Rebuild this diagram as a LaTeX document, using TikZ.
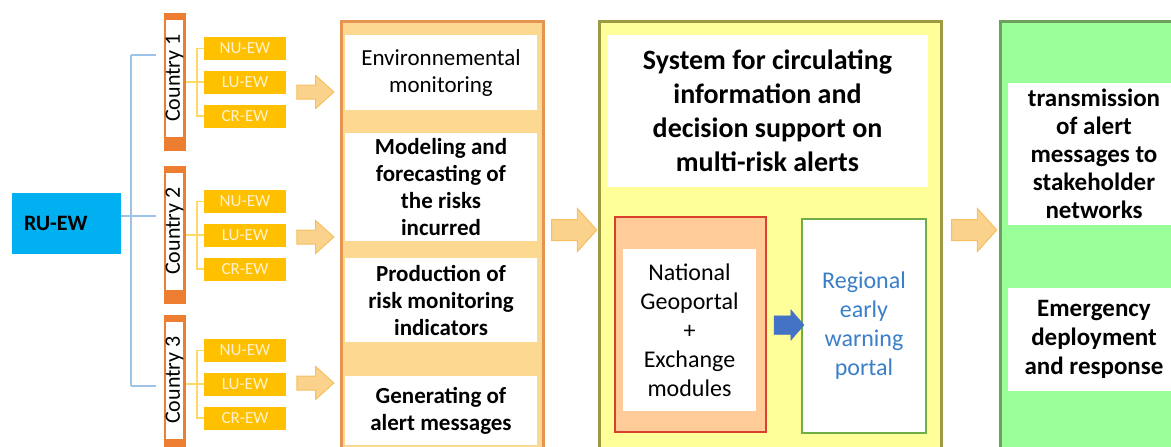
\documentclass[tikz,border=0pt]{standalone}
\usepackage{fontspec}
\setmainfont{Carlito}
\usetikzlibrary{shapes.arrows}

\definecolor{rublue}{HTML}{00B0F0}
\definecolor{rutree}{HTML}{9DC3E6}
\definecolor{ctyorange}{HTML}{ED7D31}
\definecolor{ewgold}{HTML}{FFC000}
\definecolor{ewtext}{HTML}{FFF2CC}
\definecolor{brgold}{HTML}{FFD966}
\definecolor{arrfill}{HTML}{FAD28C}
\definecolor{arrdraw}{HTML}{F5C060}
\definecolor{procdraw}{HTML}{E59452}
\definecolor{procfill}{HTML}{FDD890}
\definecolor{sysdraw}{HTML}{9E9A44}
\definecolor{sysfill}{HTML}{FFFF99}
\definecolor{natdraw}{HTML}{D9412B}
\definecolor{natfill}{HTML}{FFCC99}
\definecolor{regdraw}{HTML}{70AD47}
\definecolor{regtext}{HTML}{3A7FC8}
\definecolor{portblue}{HTML}{4472C4}
\definecolor{outfill}{HTML}{99FF99}
\definecolor{outdraw}{HTML}{6E9F5E}

\begin{document}
\begin{tikzpicture}[x=1pt, y=-1pt, font=\fontsize{23}{27}\selectfont]
    \useasboundingbox (0,0) rectangle (1171,447);
    \clip (0,0) rectangle (1171,447);
    \tikzset{box/.style={rectangle, inner sep=0pt, align=center, text centered},
        ewbox/.style={box, fill=ewgold, text=ewtext, minimum width=82pt, minimum height=23pt, font=\fontsize{17}{19}\selectfont},
        whitesec/.style={box, fill=white, minimum width=192pt},
        bigsec/.style={box, line width=2.5pt, minimum height=440pt, anchor=north west},
        fatarrow/.style={single arrow, inner xsep=0pt, minimum width=0pt, single arrow head indent=0pt, fill=arrfill, draw=arrdraw, line width=1pt},
        ruline/.style={draw=rutree, line width=2pt},
        brline/.style={draw=brgold, line width=1.5pt}}

    % regional unit and countries
    \node[box, fill=rublue, minimum width=109pt, minimum height=61pt, text width=85pt, inner xsep=12pt, align=left, font=\fontsize{22}{26}\selectfont\bfseries] (ruew) at (66.5,223.5) {RU-EW};

    \foreach \i/\y/\ay in {1/82/92,2/235/237,3/384/383}{
        \node[box, fill=ctyorange, minimum width=22pt, minimum height=138pt] (c\i) at (175,\y) {};
        \node[box, fill=white, minimum width=17pt, minimum height=117pt] (c\i t) at (174.5,\y-4) {};
        \node[rotate=90, inner sep=0pt, font=\fontsize{22}{26}\selectfont] at (c\i t) {Country \i};
        \node[ewbox] (nu\i) at (245,\y-33.5) {NU-EW};
        \node[ewbox] (lu\i) at (245,\y) {LU-EW};
        \node[ewbox] (cr\i) at (245,\y+34) {CR-EW};
        \draw[brline] (nu\i.west) -- ++(-7,0) |- (cr\i.west);
        \draw[brline] (c\i.east |- lu\i) -- (lu\i.west);
        \node[fatarrow, minimum height=37pt, inner ysep=6.5pt, single arrow head extend=9.5pt, single arrow tip angle=84] (a\i) at (311.5,\ay) {};
    }

    \coordinate (j1) at (131,55);
    \coordinate (j2) at (131,216);
    \coordinate (j3) at (131,386);
    \draw[ruline] (j1) -- (j3);
    \draw[ruline] (ruew.east |- j2) -- (j2);
    \draw[ruline, shorten >=8pt] (j1) -- (j1 -| c1.west);
    \draw[ruline, shorten >=8pt] (j2) -- (j2 -| c2.west);
    \draw[ruline, shorten >=8pt] (j3) -- (j3 -| c3.west);

    % processing chain
    \node[bigsec, draw=procdraw, fill=procfill, minimum width=202pt] (proc) at (340,20) {};
    \node[whitesec, minimum height=75pt] (env) at (441,72.5) {Environnemental\\monitoring};
    \node[whitesec, minimum height=108pt, font=\fontsize{23}{27}\selectfont\bfseries] (model) at (441,187) {Modeling and\\forecasting of\\the risks\\incurred};
    \node[whitesec, minimum height=84pt, font=\fontsize{23}{27}\selectfont\bfseries] (prod) at (441,300) {Production of\\risk monitoring\\indicators};
    \node[whitesec, minimum height=69pt, font=\fontsize{23}{27}\selectfont\bfseries] (gen) at (441,410.5) {Generating of\\alert messages};

    \node[fatarrow, minimum height=45pt, inner ysep=10pt, single arrow head extend=11pt, single arrow tip angle=96] (a4) at (569.5,230) {};

    % circulation system
    \node[bigsec, draw=sysdraw, fill=sysfill, minimum width=342pt] (sys) at (598,20) {};
    \node[box, fill=white, minimum width=321pt, minimum height=152pt, font=\fontsize{28}{34}\selectfont\bfseries] (systitle) at (767.5,111) {System for circulating\\information and\\decision support on\\multi-risk alerts};
    \node[box, draw=natdraw, fill=natfill, line width=2pt, minimum width=151pt, minimum height=215pt] (nat) at (690.5,324.5) {};
    \node[box, fill=white, minimum width=133pt, minimum height=162pt, font=\fontsize{24}{29}\selectfont] (natin) at (689.5,330) {National\\Geoportal\\+\\Exchange\\modules};
    \node[box, draw=regdraw, fill=white, line width=2pt, minimum width=124pt, minimum height=214pt, text=regtext, font=\fontsize{24}{29}\selectfont] (reg) at (864,326) {Regional\\early\\warning\\portal};
    \node[fatarrow, fill=portblue, draw=portblue, line width=0.5pt, minimum height=30pt, inner ysep=9pt, single arrow head extend=6pt, single arrow tip angle=98] (a5) at (785,325) {};

    \node[fatarrow, minimum height=45pt, inner ysep=10pt, single arrow head extend=11pt, single arrow tip angle=96] (a6) at (969.5,230) {};

    % dissemination
    \node[bigsec, draw=outdraw, fill=outfill, minimum width=190pt] (out) at (999,20) {};
    \node[box, fill=white, minimum width=172pt, minimum height=142pt, font=\fontsize{25}{28}\selectfont\bfseries] (trans) at (1094,154) {transmission\\of alert\\messages to\\stakeholder\\networks};
    \node[box, fill=white, minimum width=172pt, minimum height=103pt, font=\fontsize{25}{29}\selectfont\bfseries] (emerg) at (1094,339.5) {Emergency\\deployment\\and response};
\end{tikzpicture}
\end{document}
